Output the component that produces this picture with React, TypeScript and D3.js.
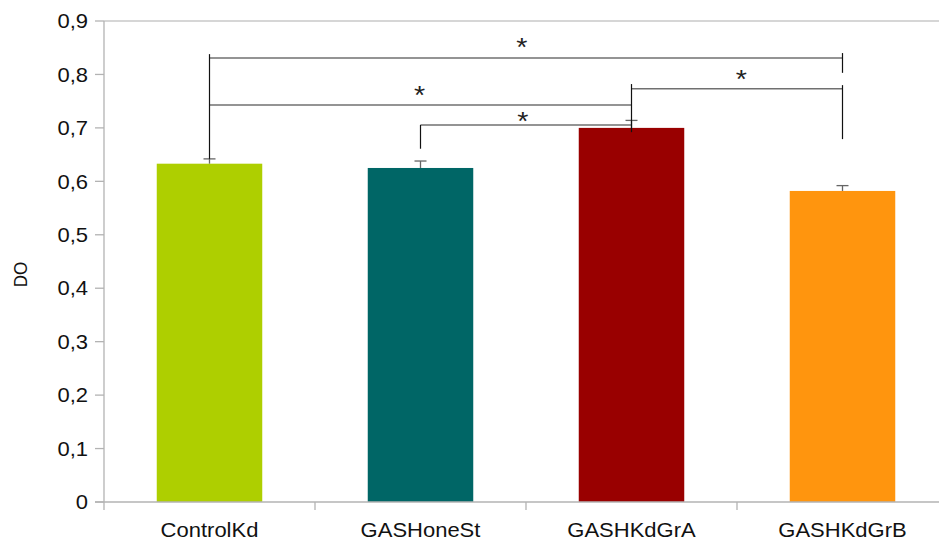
import React from "react";
import * as d3 from "d3";

// Optical density per group (mean and upper error)
const categories = ["ControlKd", "GASHoneSt", "GASHKdGrA", "GASHKdGrB"];
const means = [0.633, 0.625, 0.7, 0.582];
const errors = [0.009, 0.013, 0.014, 0.01];
const barColors = ["#aecf00", "#006666", "#990000", "#ff950e"];
const yTicks = [0, 0.1, 0.2, 0.3, 0.4, 0.5, 0.6, 0.7, 0.8, 0.9];

// Significance brackets: horizontal line between two groups, star placed at
// a fractional group position and a value level
const brackets = [
  { from: 0, to: 3, level: 0.831, starAt: 1.48, star: 0.859 },
  { from: 0, to: 2, level: 0.743, starAt: 0.995, star: 0.77 },
  { from: 1, to: 2, level: 0.7055, starAt: 1.485, star: 0.722 },
  { from: 2, to: 3, level: 0.773, starAt: 2.52, star: 0.8 },
];
// Vertical bracket legs (group index, top, bottom)
const legs = [
  { cat: 0, top: 0.838, bottom: 0.642 },
  { cat: 3, top: 0.84, bottom: 0.803 },
  { cat: 2, top: 0.782, bottom: 0.692 },
  { cat: 1, top: 0.7055, bottom: 0.661 },
  { cat: 3, top: 0.78, bottom: 0.679 },
];

const W = 939;
const H = 540;
const M = { left: 104, top: 21, bottom: 38 };
const plotRight = 948;
const FONT = "'Liberation Sans', Arial, sans-serif";
const SX = 1.1; // horizontal text stretch

const fmt = (v: number) => (v === 0 ? "0" : d3.format(".1f")(v).replace(".", ","));

export default function App() {
  const y = d3.scaleLinear().domain([0, 0.9]).range([H - M.bottom, M.top]);
  const x = d3
    .scaleBand<string>()
    .domain(categories)
    .range([M.left, plotRight])
    .paddingInner(0.5)
    .paddingOuter(0.25);
  const step = x.step();
  const cx = (i: number) => (x(categories[0]) as number) + x.bandwidth() / 2 + step * i;
  const y0 = y(0);
  const axisColor = "#b3b3b3";

  return (
    <svg
      width={W}
      height={H}
      style={{ position: "absolute", left: 0, top: 0, background: "#fff" }}
    >
      {/* top border line */}
      <line x1={M.left} x2={plotRight} y1={y(0.9)} y2={y(0.9)} stroke="#c8c8c8" strokeWidth={1.3} />

      {/* bars */}
      {categories.map((c, i) => (
        <rect
          key={c}
          x={x(c)}
          y={y(means[i])}
          width={x.bandwidth()}
          height={y0 - y(means[i])}
          fill={barColors[i]}
        />
      ))}

      {/* axes */}
      <line x1={M.left} x2={M.left} y1={y(0.9)} y2={y0 + 8} stroke={axisColor} strokeWidth={1.3} />
      <line x1={M.left - 9} x2={plotRight} y1={y0} y2={y0} stroke={axisColor} strokeWidth={1.3} />
      {yTicks.map((t) => (
        <g key={t}>
          <line x1={M.left - 9} x2={M.left} y1={y(t)} y2={y(t)} stroke={axisColor} strokeWidth={1.3} />
          <text
            transform={`translate(${M.left - 16},${y(t)}) scale(${SX},1)`}
            textAnchor="end"
            dy="0.36em"
            fontFamily={FONT}
            fontSize={20}
            fill="#111"
          >
            {fmt(t)}
          </text>
        </g>
      ))}
      {categories.map((c, i) => (
        <g key={c}>
          <line
            x1={M.left + step * (i + 1)}
            x2={M.left + step * (i + 1)}
            y1={y0}
            y2={y0 + 8}
            stroke={axisColor}
            strokeWidth={1.3}
          />
          <text
            transform={`translate(${cx(i)},${y0 + 35}) scale(${SX},1)`}
            textAnchor="middle"
            fontFamily={FONT}
            fontSize={20}
            fill="#111"
          >
            {c}
          </text>
        </g>
      ))}
      <text
        transform={`translate(27,${(y(0) + y(0.9)) / 2 + 13}) scale(${SX},1) rotate(-90)`}
        textAnchor="middle"
        fontFamily={FONT}
        fontSize={17}
        fill="#111"
      >
        DO
      </text>

      {/* error bars */}
      {categories.map((c, i) => (
        <g key={c} stroke="#666" strokeWidth={1.3}>
          <line x1={cx(i)} x2={cx(i)} y1={y(means[i])} y2={y(means[i] + errors[i])} />
          <line x1={cx(i) - 6} x2={cx(i) + 6} y1={y(means[i] + errors[i])} y2={y(means[i] + errors[i])} />
        </g>
      ))}

      {/* significance brackets */}
      {brackets.map((b, i) => (
        <g key={i}>
          <line x1={cx(b.from)} x2={cx(b.to)} y1={y(b.level)} y2={y(b.level)} stroke="#707070" strokeWidth={1.5} />
          <text
            transform={`translate(${cx(b.starAt)},${y(b.star)}) scale(${SX},1)`}
            textAnchor="middle"
            dy="0.52em"
            fontFamily={FONT}
            fontSize={26}
            fill="#222"
          >
            *
          </text>
        </g>
      ))}
      {legs.map((l, i) => (
        <line key={i} x1={cx(l.cat)} x2={cx(l.cat)} y1={y(l.top)} y2={y(l.bottom)} stroke="#111" strokeWidth={1.2} />
      ))}
    </svg>
  );
}
